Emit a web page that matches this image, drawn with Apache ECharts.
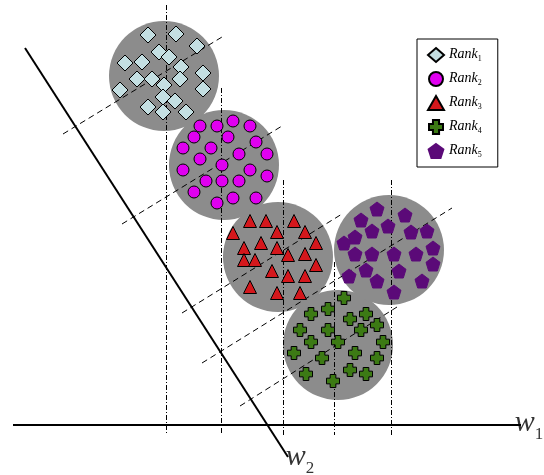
<!DOCTYPE html>
<html>
<head>
<meta charset="utf-8">
<script src="https://cdn.jsdelivr.net/npm/echarts@6/dist/echarts.min.js"></script>
<style>
  html, body { margin: 0; padding: 0; background: #fff; }
  #chart { width: 544px; height: 475px; }
</style>
</head>
<body>
<div id="chart"></div>
<script>
// picture units: x to the right, y downwards (0..544 x 0..475)
const rank1 = [[148,35],[176,34],[197,46],[159,52],[169,57],[125,63],[142,62],[181,67],[203,73],[137,79],
  [152,79],[164,85],[180,79],[120,90],[203,89],[163,97],[175,101],[148,107],[163,112],[186,112]]
const rank2 = [[200,126],[217,126],[233,121],[250,126],[194,137],[228,137],[256,142],[183,148],[211,148],[239,154],
  [267,154],[200,159],[222,165],[183,170],[250,170],[267,176],[206,181],[222,181],[239,181],[194,192],
  [233,198],[256,198],[217,203]]
const rank3 = [[250,221],[266,221],[294,221],[233,233],[277,232],[305,232],[244,248],[261,243],[277,248],[316,243],
  [244,260],[255,260],[288,255],[305,254],[316,265],[272,271],[288,276],[305,276],[250,287],[277,293],[300,293]]
const rank4 = [[344,298],[328,309],[311,314],[366,314],[350,319],[300,330],[328,330],[361,330],[377,325],[311,342],
  [338,342],[383,342],[294,353],[355,353],[322,358],[377,358],[350,370],[306,374],[366,374],[333,381]]
const rank5 = [[377,209],[405,215],[361,220],[388,226],[372,231],[411,232],[427,231],[355,237],[344,243],[433,248],
  [355,254],[372,254],[394,254],[416,254],[433,264],[366,270],[349,276],[399,271],[377,281],[422,281],[394,292]]

const rankNames = ['Rank1', 'Rank2', 'Rank3', 'Rank4', 'Rank5']
const discCentres = [[164,76],[224,165],[278,257],[338,345],[389,250]]

// projections onto w1 (dash-dot) and onto w2 (dashed)
const projTops = [[166,5],[221,88],[283,180],[334,262],[391,180]]
const projBaseY = 435
const dashSegs = [
  [[63,134],[222,37]],
  [[122,224],[282,126]],
  [[182,313],[342,214]],
  [[202,363],[452,208]],
  [[240,406],[397,307]]
]
const w1Axis = [[13,425],[521,425]]
const w2Axis = [[25,48],[288,457]]
const axisSubs = ['1', '2']
const axisNamePos = [[529,423],[300,457]]

const chart = echarts.init(document.getElementById('chart'))

const pentagon = 'path://M0,-10L9.51,-3.09L5.88,8.09L-5.88,8.09L-9.51,-3.09Z'
const plus = 'path://M-3.5,-8L3.5,-8L3.5,-3.5L8,-3.5L8,3.5L3.5,3.5L3.5,8L-3.5,8L-3.5,3.5L-8,3.5L-8,-3.5L-3.5,-3.5Z'

const markerSeries = [
  { data: rank1, symbol: 'diamond', size: 16, color: '#c4dfe2', border: '#000' },
  { data: rank2, symbol: 'circle', size: 12, color: '#e000f0', border: '#000' },
  { data: rank3, symbol: 'triangle', size: 13, color: '#d4171c', border: '#000' },
  { data: rank4, symbol: plus, size: 13, color: '#3c7a14', border: '#000' },
  { data: rank5, symbol: pentagon, size: 14, color: '#5b0a78', border: '#5b0a78' }
].map((m, i) => ({
  name: rankNames[i],
  type: 'scatter',
  z: 5,
  symbol: m.symbol,
  symbolSize: m.size,
  data: m.data,
  itemStyle: { color: m.color, borderColor: m.border, borderWidth: 1, opacity: 1 },
  emphasis: { disabled: true }
}))

const serif = "'Liberation Serif', 'DejaVu Serif', serif"

chart.setOption({
  animation: false,
  grid: { left: 0, right: 0, top: 0, bottom: 0 },
  xAxis: { type: 'value', min: 0, max: 544, show: false },
  yAxis: { type: 'value', min: 0, max: 475, inverse: true, show: false },
  legend: {
    data: rankNames,
    orient: 'vertical',
    left: 417,
    top: 39,
    padding: [8, 16, 8, 10],
    itemWidth: 16,
    itemHeight: 14,
    itemGap: 8,
    borderColor: '#000',
    borderWidth: 1,
    borderRadius: 0,
    selectedMode: false,
    formatter: name => '{r|Rank}{s|' + name.slice(4) + '}',
    textStyle: {
      rich: {
        r: { fontFamily: serif, fontStyle: 'italic', fontSize: 14, color: '#000', lineHeight: 16, verticalAlign: 'top' },
        s: { fontFamily: serif, fontSize: 8, color: '#000', lineHeight: 10, padding: [8, 0, 0, 0], verticalAlign: 'top' }
      }
    }
  },
  series: [
    {
      type: 'scatter',
      z: 1,
      symbol: 'circle',
      symbolSize: 110,
      data: discCentres,
      itemStyle: { color: '#8c8c8c', opacity: 1 },
      silent: true
    },
    {
      type: 'lines',
      coordinateSystem: 'cartesian2d',
      z: 3,
      silent: true,
      data: projTops.map(p => ({ coords: [p, [p[0], projBaseY]] })),
      lineStyle: { color: '#000', width: 1, type: [5, 2, 1, 2], opacity: 1 }
    },
    {
      type: 'lines',
      coordinateSystem: 'cartesian2d',
      z: 3,
      silent: true,
      data: dashSegs.map(s => ({ coords: s })),
      lineStyle: { color: '#000', width: 1, type: [6, 4], opacity: 1 }
    },
    {
      type: 'lines',
      coordinateSystem: 'cartesian2d',
      z: 4,
      silent: true,
      data: [{ coords: w1Axis }, { coords: w2Axis }],
      lineStyle: { color: '#000', width: 2, type: 'solid', opacity: 1 }
    },
    ...markerSeries,
    {
      type: 'scatter',
      z: 6,
      silent: true,
      symbolSize: 0,
      data: axisNamePos.map((p, i) => ({ value: p, name: axisSubs[i] })),
      label: {
        show: true,
        position: 'inside',
        formatter: p => '{w|w}{s|' + p.name + '}',
        rich: {
          w: { fontFamily: serif, fontStyle: 'italic', fontSize: 30, color: '#000', lineHeight: 30, verticalAlign: 'top' },
          s: { fontFamily: serif, fontSize: 17, color: '#000', lineHeight: 18, padding: [18, 0, 0, 0], verticalAlign: 'top' }
        }
      }
    }
  ]
})
</script>
</body>
</html>
